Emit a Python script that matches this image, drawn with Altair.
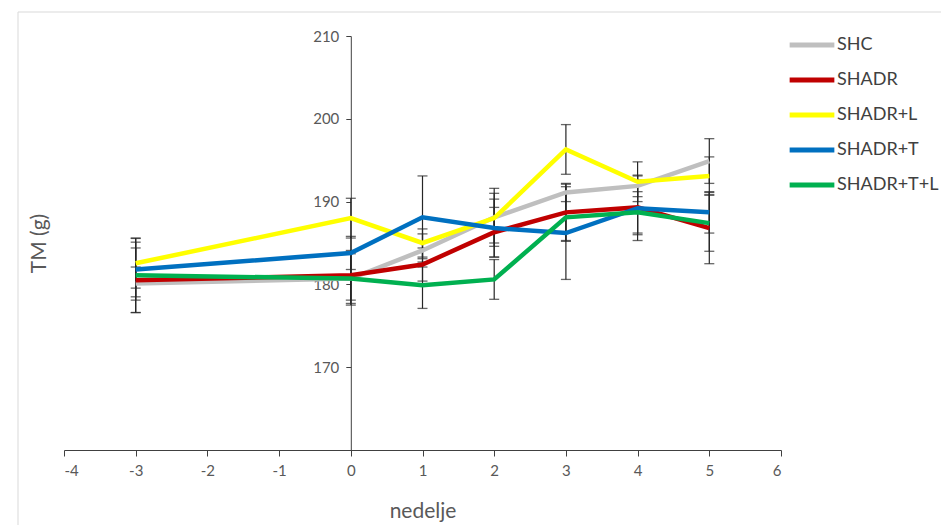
import altair as alt
import pandas as pd

weeks = [-3, 0, 1, 2, 3, 4, 5]
series_names = ["SHC", "SHADR", "SHADR+L", "SHADR+T", "SHADR+T+L"]
series_colors = ["#BFBFBF", "#C00000", "#FFFF00", "#0070C0", "#00B050"]

shc = [180.1, 180.7, 184.1, 188.1, 191.1, 191.9, 194.9]
shadr = [180.5, 181.1, 182.4, 186.3, 188.7, 189.3, 186.8]
shadr_l = [182.55, 188.0, 185.0, 188.0, 196.3, 192.4, 193.1]
shadr_t = [181.8, 183.8, 188.1, 186.8, 186.2, 189.2, 188.7]
shadr_tl = [181.1, 180.7, 179.9, 180.6, 188.1, 188.7, 187.4]

err_shc = [2.0, 3.2, 2.0, 3.5, 1.1, 1.3, 2.7]
err_shadr = [3.9, 3.0, 2.0, 3.0, 3.4, 3.3, 4.3]
err_shadr_l = [3.0, 2.4, 1.7, 3.0, 3.0, 2.4, 2.3]
err_shadr_t = [3.3, 2.0, 5.0, 3.5, 5.6, 3.9, 2.5]
err_shadr_tl = [4.5, 3.0, 2.8, 2.4, 2.9, 2.5, 3.4]

x_ticks = list(range(-4, 7))
y_ticks = [170, 180, 190, 200, 210]

values = [shc, shadr, shadr_l, shadr_t, shadr_tl]
errors = [err_shc, err_shadr, err_shadr_l, err_shadr_t, err_shadr_tl]

rows = []
for name, vals, errs in zip(series_names, values, errors):
    for w, v, e in zip(weeks, vals, errs):
        rows.append({"series": name, "week": w, "tm": v, "err": e})
df = pd.DataFrame(rows)

W, H = 717, 414
FONT = "Lato"

x_enc = alt.X(
    "week:Q",
    scale=alt.Scale(domain=[-4, 6], nice=False, zero=False),
    axis=alt.Axis(
        values=x_ticks, title="nedelje", labelExpr="'' + datum.value",
        grid=False, domainColor="#404040", tickColor="#404040", tickSize=6,
        labelFont=FONT, labelFontSize=15, labelColor="#595959", labelPadding=7,
        titleFont=FONT, titleFontSize=21, titleFontWeight="normal",
        titleColor="#595959", titlePadding=22,
    ),
)
y_scale = alt.Scale(domain=[160, 210], nice=False, zero=False)
y_enc = alt.Y(
    "tm:Q",
    scale=y_scale,
    axis=alt.Axis(
        values=y_ticks, title="TM (g)", offset=-286.8, grid=False,
        domainColor="#404040", tickColor="#404040", tickSize=5,
        labelFont=FONT, labelFontSize=15, labelColor="#595959", labelPadding=7,
        titleFont=FONT, titleFontSize=21, titleFontWeight="normal",
        titleColor="#595959", titleX=-311, titleY=207, titleAngle=-90,
        titleAlign="center", titleBaseline="middle",
    ),
)

base = alt.Chart(df)

frame = alt.Chart(pd.DataFrame({"a": [0]})).mark_rect(
    fill="transparent", stroke="#D9D9D9", strokeWidth=1
).encode(
    x=alt.value(-46), x2=alt.value(W + 200),
    y=alt.value(-24), y2=alt.value(H + 200),
)

err_data = base.transform_calculate(
    lo="datum.tm - datum.err", hi="datum.tm + datum.err"
)
err_rule = err_data.mark_rule(color="#262626", strokeWidth=1.2).encode(
    x=alt.X("week:Q"), y=alt.Y("lo:Q", scale=y_scale), y2="hi:Q"
)
cap_lo = err_data.mark_tick(color="#262626", thickness=1.3, size=10, orient="horizontal").encode(
    x="week:Q", y=alt.Y("lo:Q", scale=y_scale)
)
cap_hi = err_data.mark_tick(color="#262626", thickness=1.3, size=10, orient="horizontal").encode(
    x="week:Q", y=alt.Y("hi:Q", scale=y_scale)
)

color_enc = alt.Color(
    "series:N",
    scale=alt.Scale(domain=series_names, range=series_colors),
    legend=alt.Legend(
        title=None, orient="none", legendX=723, legendY=-16,
        symbolType="stroke", symbolStrokeWidth=5, symbolSize=2000,
        labelFont=FONT, labelFontSize=18, labelColor="#404040",
        labelOffset=0, rowPadding=-5,
    ),
)

line_layers = []
for name in series_names:
    line_layers.append(
        base.transform_filter(alt.datum.series == name)
        .mark_line(strokeWidth=4.5, strokeCap="butt", strokeJoin="miter")
        .encode(x=x_enc, y=y_enc, color=color_enc)
    )

chart = alt.layer(frame, err_rule, cap_lo, cap_hi, *line_layers).properties(
    width=W, height=H,
    background="white",
    autosize=alt.AutoSizeParams(type="none"),
    padding={"left": 64, "top": 36, "right": 160, "bottom": 75},
).configure_view(stroke=None, strokeWidth=0)

chart.save("out.html", embed_options={"renderer": "svg", "actions": False})
